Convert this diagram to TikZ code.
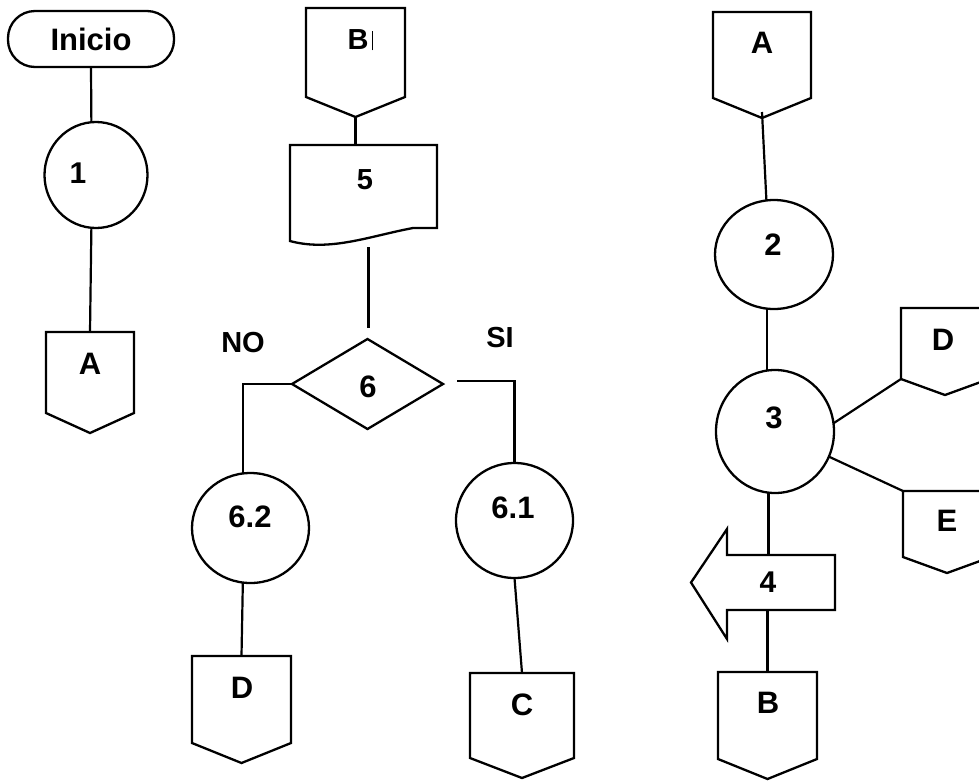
\documentclass[tikz,border=0pt]{standalone}
\usepackage{fontspec}
\setmainfont{Liberation Sans}
\usetikzlibrary{calc,shapes.geometric}
\tikzset{
  shp/.style={draw=black,line width=2.3pt,line join=miter},
  ln/.style={draw=black,line width=2.2pt},
  hold/.style={draw=none,inner sep=0pt,outer sep=0pt,rectangle},
  circ/.style={draw=black,line width=2.3pt,ellipse,inner sep=0pt,outer sep=0pt},
  lbl/.style={inner sep=0pt,outer sep=0pt,font=\bfseries\fontsize{31}{36}\selectfont},
  lbls/.style={inner sep=0pt,outer sep=0pt,font=\bfseries\fontsize{29}{34}\selectfont},
  lblm/.style={inner sep=0pt,outer sep=0pt,font=\bfseries\fontsize{30}{35}\selectfont},
}
\newcommand\offpg[2]{%
  \draw[shp] (#1.north west) -- (#1.north east) -- ($(#1.south east)+(0,-#2)$) -- (#1.south) -- ($(#1.south west)+(0,-#2)$) -- cycle;}
\begin{document}
\begin{tikzpicture}[x=1pt,y=-1pt]
\useasboundingbox (0,0) rectangle (979,780);
\fill[white] (0,0) rectangle (979,780);
\clip (0,0) rectangle (979,780);

% ---------- column 1 ----------
\node[draw=black,line width=2.3pt,rectangle,rounded corners=27pt,minimum width=166pt,minimum height=56pt,inner sep=0pt,font=\bfseries\fontsize{31}{36}\selectfont] (inicio) at (91,39) {Inicio};
\node[circ,minimum width=103pt,minimum height=106pt] (c1) at (96,175) {};
\node[lblm] (l1) at (78,173) {1};
\node[hold,minimum width=88pt,minimum height=101pt] (cA1) at (90,382.5) {};
\offpg{cA1}{20}
\node[lbl] (lA1) at (90,364) {A};
\draw[ln] (inicio.south) -- (c1.95);
\draw[ln] (c1.265) -- (cA1.north);

% ---------- column 2 ----------
\node[hold,minimum width=99pt,minimum height=109pt] (cB1) at (355.5,62.5) {};
\offpg{cB1}{20}
\node[lbls] (lB1) at (360,40) {B\hspace{3pt}\rule[-1pt]{0.9pt}{19pt}};
\node[hold,minimum width=147pt,minimum height=95pt] (doc5) at (363.5,192.5) {};
\draw[shp] (doc5.north west) -- (doc5.north east) -- ($(doc5.south east)+(0,-12)$) -- ($(doc5.south east)+(-24,-12)$) .. controls ($(doc5.south west)+(80,-4)$) and ($(doc5.south west)+(40,12)$) .. ($(doc5.south west)+(0,1)$) -- cycle;
\node[lbls] (l5) at (365,180) {5};
\draw[ln] (cB1.south) -- (cB1.south |- doc5.north);

\node[draw=black,line width=2.3pt,diamond,minimum width=151pt,minimum height=90pt,inner sep=0pt,outer sep=0pt] (d6) at (367.5,384) {};
\node[lbl] (l6) at (368,387) {6};
\draw[ln] ($(d6.north |- doc5.south)+(1,7)$) -- ($(d6.north)+(1,-11)$);

\node[lbls] (lno) at (243,343) {NO};
\node[lbls] (lsi) at (500,338) {SI};

\node[circ,minimum width=117pt,minimum height=110pt] (c62) at (250.5,528) {};
\node[lbl] (l62) at (250,517) {6.2};
\node[circ,minimum width=117pt,minimum height=115pt] (c61) at (514.5,520.5) {};
\node[lbl] (l61) at (513,508) {6.1};

\draw[ln] (d6.west) -- (c62.98 |- d6.west) -- (c62.98);
\draw[ln] ($(d6.east)+(14,-3)$) -- ($(d6.east -| c61.north)+(0,-3)$) -- (c61.north);

\node[hold,minimum width=99pt,minimum height=107pt] (cD1) at (241.5,709.5) {};
\offpg{cD1}{20}
\node[lbl] (lD1) at (242,688) {D};
\node[hold,minimum width=104pt,minimum height=105pt] (cC) at (522,725.5) {};
\offpg{cC}{20}
\node[lbl] (lC) at (522,705) {C};

\draw[ln] (c62.262) -- (cD1.north);
\draw[ln] (c61.south) -- (cC.north);

% ---------- column 3 ----------
\node[hold,minimum width=98pt,minimum height=106pt] (cA2) at (762,65) {};
\offpg{cA2}{20}
\node[lbl] (lA2) at (762,43) {A};
\node[circ,minimum width=118pt,minimum height=109pt] (c2) at (774,254.5) {};
\node[lbl] (l2) at (773,245) {2};
\node[circ,minimum width=118pt,minimum height=123pt] (c3) at (775,431.5) {};
\node[lbl] (l3) at (774,418) {3};

\draw[ln] ($(cA2.south)+(0,-6)$) -- (c2.98);
\draw[ln] (c2.263) -- (c2.263 |- c3.north);

\node[hold,minimum width=88pt,minimum height=87pt] (cD2) at (945,351.5) {};
\offpg{cD2}{16}
\node[lbl] (lD2) at (943,340) {D};
\node[hold,minimum width=88pt,minimum height=82pt] (cE) at (947,532) {};
\offpg{cE}{16}
\node[lbl] (lE) at (947,521) {E};

\draw[ln] (c3.8) -- ($(cD2.south west)+(0,-16)$);
\draw[ln] (c3.335) -- (cE.north west);

\node[hold,minimum width=108pt,minimum height=55pt] (a4) at (781,582.5) {};
\draw[shp] (a4.north east) -- (a4.north west) -- ($(a4.north west)+(0,-26)$) -- ($(a4.west)+(-36,0)$) -- ($(a4.south west)+(0,29)$) -- (a4.south west) -- (a4.south east) -- cycle;
\node[lblm] (l4) at (768,582) {4};
\draw[ln] (c3.264) -- (c3.264 |- a4.north);

\node[hold,minimum width=99pt,minimum height=107pt] (cB2) at (767.5,725.5) {};
\offpg{cB2}{20}
\node[lbl] (lB2) at (768,703) {B};
\draw[ln] (cB2.north |- a4.south) -- (cB2.north);
\end{tikzpicture}
\end{document}
